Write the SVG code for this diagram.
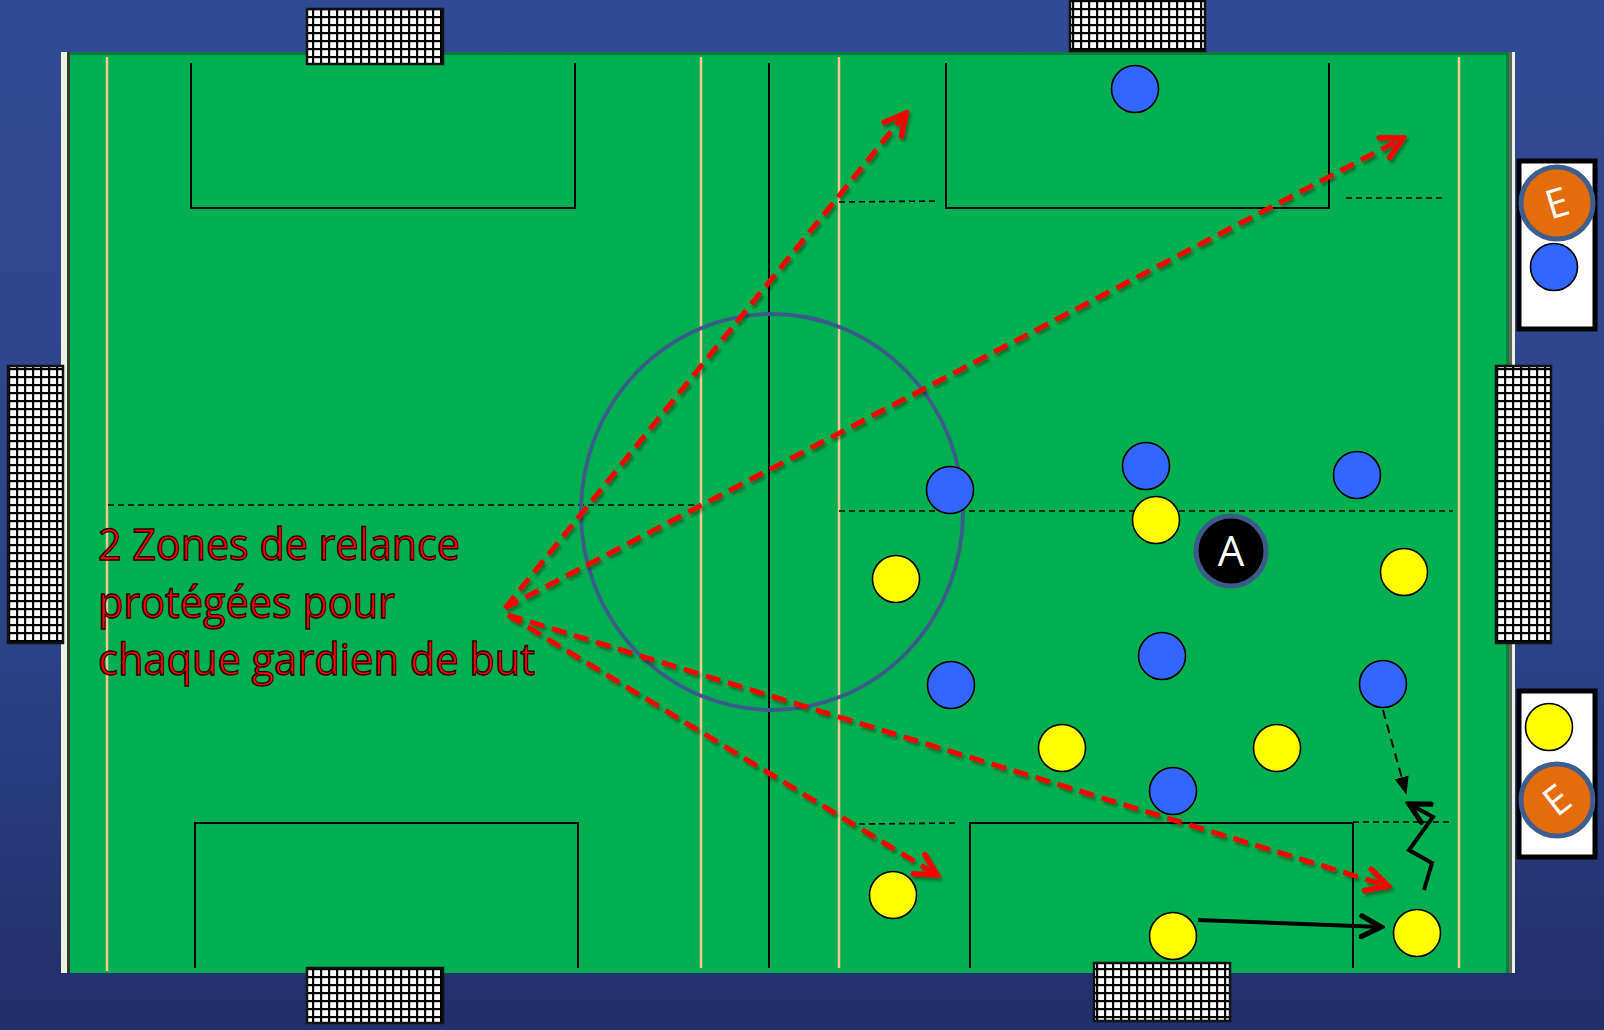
<svg xmlns="http://www.w3.org/2000/svg" width="1604" height="1030" viewBox="0 0 1604 1030">
<defs>
<linearGradient id="bg" x1="0" y1="0" x2="0" y2="1">
<stop offset="0" stop-color="#314a95"/>
<stop offset="0.6" stop-color="#2c4388"/>
<stop offset="1" stop-color="#212f6a"/>
</linearGradient>
<pattern id="net" patternUnits="userSpaceOnUse" width="8" height="8">
<rect width="8" height="8" fill="#fff"/>
<rect width="2.2" height="8" fill="#000"/>
<rect width="8" height="2.2" fill="#000"/>
</pattern>
<marker id="redHead" viewBox="0 0 20 20" refX="17" refY="10" markerWidth="28" markerHeight="28" markerUnits="userSpaceOnUse" orient="auto">
<path d="M2,2 L17,10 L2,18" fill="none" stroke="#ff0000" stroke-width="4" stroke-linecap="round"/>
</marker>
<marker id="blackOpen" viewBox="0 0 20 20" refX="17" refY="10" markerWidth="26" markerHeight="26" markerUnits="userSpaceOnUse" orient="auto">
<path d="M2,2 L17,10 L2,18" fill="none" stroke="#000" stroke-width="4" stroke-linecap="round"/>
</marker>
<marker id="blackTri" viewBox="0 0 20 20" refX="18" refY="10" markerWidth="18" markerHeight="18" markerUnits="userSpaceOnUse" orient="auto">
<path d="M0,2 L20,10 L0,18 Z" fill="#000"/>
</marker>
<filter id="shadow" x="-10%" y="-10%" width="120%" height="120%">
<feDropShadow dx="2" dy="3" stdDeviation="1.5" flood-color="#000" flood-opacity="0.35"/>
</filter>
<style>
.beige{stroke:#f7c68e;stroke-width:2.5;fill:none}
.blk{stroke:#000;stroke-width:2;fill:none}
.dash{stroke:#000;stroke-width:1.6;stroke-dasharray:6 4;fill:none}
.netr{fill:url(#net);stroke:#111;stroke-width:2.5}
.blue{fill:#3366ff;stroke:#000;stroke-width:1.6}
.yel{fill:#ffff00;stroke:#000;stroke-width:1.6}
.red{stroke:#ff0000;stroke-width:5;stroke-dasharray:15 8;fill:none;marker-end:url(#redHead)}
.eC{fill:#e46c0a;stroke:#3c5f8f;stroke-width:5}
.eT{font-family:"Open Sans","Noto Sans",sans-serif;font-size:40px;fill:#fff;text-anchor:middle}
.lbl{font-family:"Open Sans","Noto Sans",sans-serif;font-size:43px;fill:#ff0000;stroke:#300000;stroke-width:1.4}
</style>
</defs>
<rect width="1604" height="1030" fill="url(#bg)"/>

<g id="field">
<rect x="61" y="52" width="1454" height="921" fill="#00b050"/>
<rect x="61" y="52" width="1454" height="3" fill="#0a7d3b"/>
<rect x="61" y="52" width="6" height="921" fill="#eef0e0"/>
<rect x="67" y="52" width="3" height="921" fill="#2f3d33"/>
<rect x="1506" y="52" width="3" height="921" fill="#0a7d3b"/>
<rect x="1509" y="52" width="3" height="921" fill="#5a6a5c"/>
<rect x="1512" y="52" width="3" height="921" fill="#eef0e0"/>
<line class="beige" x1="107" y1="57" x2="107" y2="971"/>
<line class="beige" x1="701" y1="57" x2="701" y2="968"/>
<line class="beige" x1="839" y1="57" x2="839" y2="968"/>
<line class="beige" x1="1459" y1="57" x2="1459" y2="968"/>
<line class="blk" x1="769" y1="63" x2="769" y2="968"/>
<polyline class="blk" points="191,63 191,208 575,208 575,63"/>
<polyline class="blk" points="946,63 946,208 1329,208 1329,63"/>
<polyline class="blk" points="195,968 195,823 578,823 578,968"/>
<polyline class="blk" points="970,968 970,823 1353,823 1353,968"/>
<line class="dash" x1="839" y1="202" x2="939" y2="201"/>
<line class="dash" x1="1346" y1="198" x2="1446" y2="198"/>
<line class="dash" x1="108" y1="505" x2="696" y2="505"/>
<line class="dash" x1="839" y1="511" x2="1453" y2="511"/>
<line class="dash" x1="859" y1="824" x2="957" y2="823"/>
<line class="dash" x1="1353" y1="822" x2="1453" y2="822"/>
<ellipse cx="772" cy="512" rx="191" ry="198" fill="none" stroke="#3d5a8c" stroke-width="3.8"/>
</g>

<g id="net-top-left"><rect class="netr" x="307" y="9" width="136" height="55"/></g>
<g id="net-top-right"><rect class="netr" x="1070" y="-2" width="135" height="53"/></g>
<g id="net-left"><rect class="netr" x="8" y="366" width="55" height="277"/></g>
<g id="net-right"><rect class="netr" x="1496" y="366" width="55" height="277"/></g>
<g id="net-bottom-left"><rect class="netr" x="307" y="968" width="136" height="55"/></g>
<g id="net-bottom-right"><rect class="netr" x="1094" y="963" width="136" height="58"/></g>

<g id="bench-top">
<rect x="1519" y="161" width="76" height="168" fill="#fff" stroke="#000" stroke-width="5"/>
<circle class="eC" cx="1557" cy="203" r="36"/>
<text class="eT" x="1557" y="217" transform="rotate(-17 1557 203)">E</text>
<circle class="blue" cx="1554" cy="267" r="23.5"/>
</g>
<g id="bench-bottom">
<rect x="1519" y="691" width="76" height="166" fill="#fff" stroke="#000" stroke-width="5"/>
<circle class="yel" cx="1549" cy="727" r="23.5"/>
<circle class="eC" cx="1557" cy="800" r="36"/>
<text class="eT" x="1557" y="814" transform="rotate(-38 1557 800)">E</text>
</g>

<g id="blue-players">
<circle class="blue" cx="1135" cy="89" r="23.5"/>
<circle class="blue" cx="950" cy="490" r="23.5"/>
<circle class="blue" cx="1146" cy="466" r="23.5"/>
<circle class="blue" cx="1357" cy="475" r="23.5"/>
<circle class="blue" cx="1162" cy="656" r="23.5"/>
<circle class="blue" cx="951" cy="685" r="23.5"/>
<circle class="blue" cx="1383" cy="684" r="23.5"/>
<circle class="blue" cx="1173" cy="791" r="23.5"/>
</g>
<g id="yellow-players">
<circle class="yel" cx="1156" cy="520" r="23.5"/>
<circle class="yel" cx="896" cy="579" r="23.5"/>
<circle class="yel" cx="1404" cy="572" r="23.5"/>
<circle class="yel" cx="1062" cy="748" r="23.5"/>
<circle class="yel" cx="1277" cy="748" r="23.5"/>
<circle class="yel" cx="893" cy="895" r="23.5"/>
<circle class="yel" cx="1173" cy="936" r="23.5"/>
<circle class="yel" cx="1417" cy="933" r="23.5"/>
</g>
<g id="player-A">
<circle cx="1231" cy="551" r="35" fill="#000" stroke="#3c5a8a" stroke-width="5"/>
<text x="1231" y="566" font-family="'Open Sans','Noto Sans',sans-serif" font-size="42" fill="#fff" text-anchor="middle">A</text>
</g>

<g id="connectors">
<g filter="url(#shadow)">
<line class="red" x1="505" y1="608" x2="906" y2="113"/>
<line class="red" x1="505" y1="608" x2="1403" y2="138"/>
<line class="red" x1="508" y1="615" x2="937" y2="875"/>
<line class="red" x1="508" y1="615" x2="1388" y2="886"/>
</g>
<line x1="1198" y1="920" x2="1381" y2="927" stroke="#000" stroke-width="4" marker-end="url(#blackOpen)"/>
<line x1="1383" y1="710" x2="1406" y2="793" stroke="#000" stroke-width="2" stroke-dasharray="9 6" marker-end="url(#blackTri)"/>
<polyline points="1424,890 1432,863 1409,850 1433,817 1409,804" fill="none" stroke="#000" stroke-width="4" stroke-linejoin="miter" marker-end="url(#blackOpen)"/>
</g>

<g id="label">
<text class="lbl" x="98" y="560" textLength="362" lengthAdjust="spacingAndGlyphs">2 Zones de relance</text>
<text class="lbl" x="98" y="618" textLength="297" lengthAdjust="spacingAndGlyphs">protégées pour</text>
<text class="lbl" x="98" y="675" textLength="437" lengthAdjust="spacingAndGlyphs">chaque gardien de but</text>
</g>
</svg>
